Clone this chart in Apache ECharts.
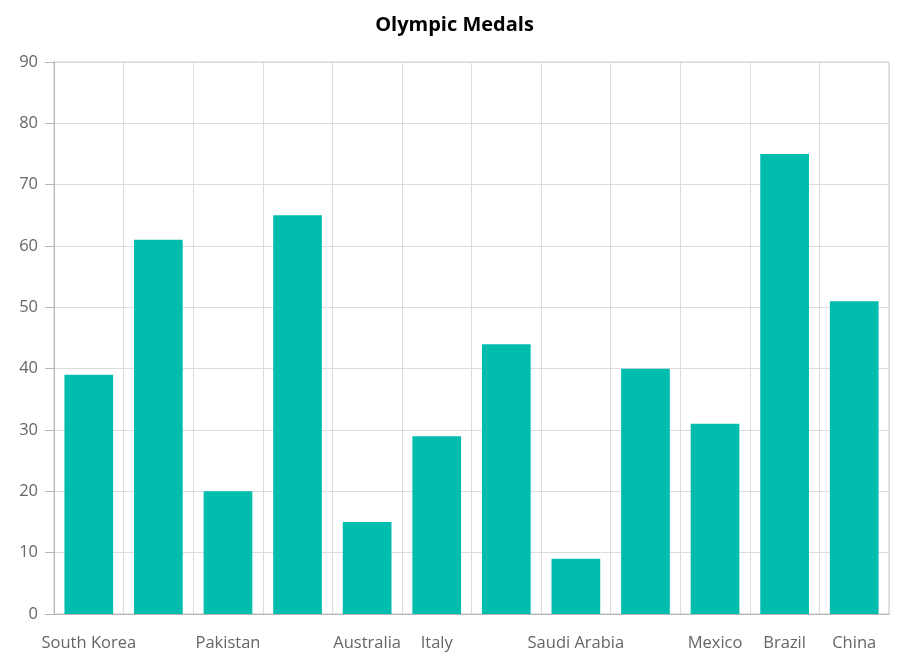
<!DOCTYPE html>
<html>
<head>
<meta charset="utf-8">
<script src="https://cdn.jsdelivr.net/npm/echarts@6/dist/echarts.min.js"></script>
<style>
  html, body { margin: 0; padding: 0; background: #fff; }
  #container { width: 909px; height: 660px; }
</style>
</head>
<body>
<div id="container"></div>
<script>
// categories (some labels are hidden in the original because of overlap)
var countries = ['South Korea', 'United States', 'Pakistan', 'Great Britain', 'Australia', 'Italy',
                 'New Zealand', 'Saudi Arabia', 'Netherlands', 'Mexico', 'Brazil', 'China'];
var medals = [39, 61, 20, 65, 15, 29, 44, 9, 40, 31, 75, 51];
var hiddenLabels = [1, 3, 6, 8];
var yTicks = { min: 0, max: 90, interval: 10 };

var dom = document.getElementById('container');
var myChart = echarts.init(dom);
var font = 'Open Sans';

var option = {
    animation: false,
    title: {
        text: 'Olympic Medals',
        left: 'center',
        top: 10,
        textStyle: {
            fontFamily: font,
            fontSize: 20,
            fontWeight: 'bold',
            color: '#000'
        }
    },
    grid: {
        left: 54,
        right: 20,
        top: 62,
        bottom: 46,
        show: true,
        borderColor: '#c8c8c8',
        borderWidth: 1
    },
    xAxis: {
        type: 'category',
        data: countries,
        axisLine: { lineStyle: { color: '#b5b5b5', width: 1 } },
        axisTick: {
            alignWithLabel: false,
            length: 10,
            interval: 0,
            lineStyle: { color: '#b5b5b5' }
        },
        splitLine: {
            show: true,
            interval: 0,
            lineStyle: { color: '#dcdcdc' }
        },
        axisLabel: {
            interval: function (index) {
                return hiddenLabels.indexOf(index) < 0;
            },
            margin: 21,
            fontFamily: font,
            fontSize: 16.5,
            color: '#666'
        }
    },
    yAxis: {
        type: 'value',
        min: yTicks.min,
        max: yTicks.max,
        interval: yTicks.interval,
        axisLine: { show: true, lineStyle: { color: '#b5b5b5' } },
        axisTick: { show: true, length: 9, lineStyle: { color: '#b5b5b5' } },
        splitLine: { lineStyle: { color: '#dcdcdc' } },
        axisLabel: {
            margin: 16,
            fontFamily: font,
            fontSize: 16.5,
            color: '#666'
        }
    },
    series: [
        {
            name: 'Gold',
            type: 'bar',
            data: medals,
            barCategoryGap: '30%',
            itemStyle: { color: '#00bdae' }
        }
    ]
};

myChart.setOption(option);
</script>
</body>
</html>
